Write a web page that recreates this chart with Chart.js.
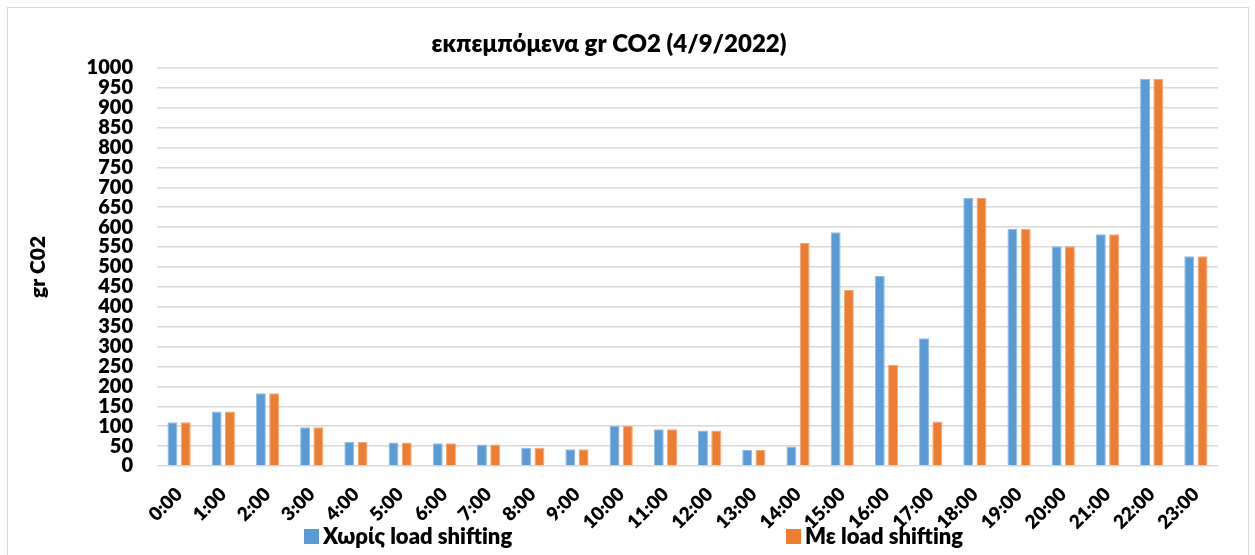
<!DOCTYPE html>
<html>
<head>
<meta charset="utf-8">
<script src="https://cdn.jsdelivr.net/npm/chart.js@4.4.1/dist/chart.umd.min.js"></script>
<style>
  html, body { margin: 0; padding: 0; background: #ffffff; overflow: hidden; }
  #wrap { position: relative; width: 1255px; height: 555px; }
  #frame { position: absolute; left: 7px; top: 7px; width: 1242px; height: 560px; border: 1px solid #d9d9d9; box-sizing: border-box; }
  canvas { position: absolute; left: 0; top: 0; }
</style>
</head>
<body>
<div id="wrap">
  <div id="frame"></div>
  <canvas id="chart" width="1255" height="555"></canvas>
</div>
<script>
// Hourly emitted CO2 (grams) for 4/9/2022
const hours = ['0:00','1:00','2:00','3:00','4:00','5:00','6:00','7:00','8:00','9:00','10:00','11:00',
               '12:00','13:00','14:00','15:00','16:00','17:00','18:00','19:00','20:00','21:00','22:00','23:00'];
const withoutShifting = [110, 137, 183, 97, 61, 59, 57, 54, 46, 42, 101, 92,
                         89, 40, 49, 587, 477, 321, 673, 596, 552, 582, 972, 527];
const withShifting    = [110, 137, 183, 97, 61, 59, 57, 54, 46, 42, 101, 92,
                         89, 40, 560, 442, 254, 112, 673, 596, 552, 582, 972, 527];
const seriesNames = ['Χωρίς load shifting', 'Με load shifting'];
const chartTitle = 'εκπεμπόμενα gr CO2 (4/9/2022)';
const yTitle = 'gr C02';

const FONT = "Lato, 'Noto Sans', 'Open Sans', sans-serif";
const HEAVY = '800';
const BLUE = '#5B9BD5';
const ORANGE = '#ED7D31';

// Legend drawn below the axis, with the two entries spaced apart
const bottomLegend = {
  id: 'bottomLegend',
  afterDraw(chart) {
    const ctx = chart.ctx;
    const entries = chart.data.datasets.map((ds, i) => ({ text: ds.label, color: ds.backgroundColor, x: [304, 786][i] }));
    ctx.save();
    ctx.font = HEAVY + ' 22px ' + FONT;
    ctx.textBaseline = 'middle';
    ctx.textAlign = 'left';
    const cy = 537;
    entries.forEach(e => {
      ctx.fillStyle = e.color;
      ctx.fillRect(e.x, cy - 8, 15, 15);
      ctx.fillStyle = '#000000';
      ctx.fillText(e.text, e.x + 19, cy);
    });
    ctx.restore();
  }
};

new Chart(document.getElementById('chart'), {
  type: 'bar',
  data: {
    labels: hours,
    datasets: [
      { label: seriesNames[0], data: withoutShifting, backgroundColor: BLUE, borderColor: '#8FBCE6', borderWidth: 1 },
      { label: seriesNames[1], data: withShifting, backgroundColor: ORANGE, borderColor: '#F3A775', borderWidth: 1 }
    ]
  },
  options: {
    responsive: false,
    animation: false,
    layout: { padding: { left: 0, right: 37, top: 0, bottom: 0 } },
    datasets: { bar: { categoryPercentage: 0.6, barPercentage: 0.75 } },
    plugins: {
      legend: { display: false },
      tooltip: { enabled: false },
      title: {
        display: true,
        text: chartTitle,
        color: '#000000',
        font: { family: FONT, size: 24, weight: HEAVY },
        padding: { top: 30, bottom: 9 }
      }
    },
    scales: {
      x: {
        grid: { display: false, drawTicks: false },
        border: { display: false },
        ticks: {
          color: '#000000',
          font: { family: FONT, size: 19, weight: HEAVY },
          minRotation: 45, maxRotation: 45,
          autoSkip: false,
          padding: 17
        },
        afterFit(scale) { scale.height = 89; }
      },
      y: {
        min: 0, max: 1000,
        grid: { color: '#d9d9d9', lineWidth: 1.5, drawTicks: false },
        border: { display: false },
        ticks: {
          stepSize: 50,
          autoSkip: false,
          color: '#000000',
          font: { family: FONT, size: 20, weight: HEAVY },
          padding: 24,
          callback: (v) => String(v)
        },
        title: {
          display: true,
          text: yTitle,
          color: '#000000',
          font: { family: FONT, size: 21, weight: HEAVY },
          padding: { top: 26, bottom: 0 }
        },
        afterFit(scale) { scale.width = 157; }
      }
    }
  },
  plugins: [bottomLegend]
});
</script>
</body>
</html>
